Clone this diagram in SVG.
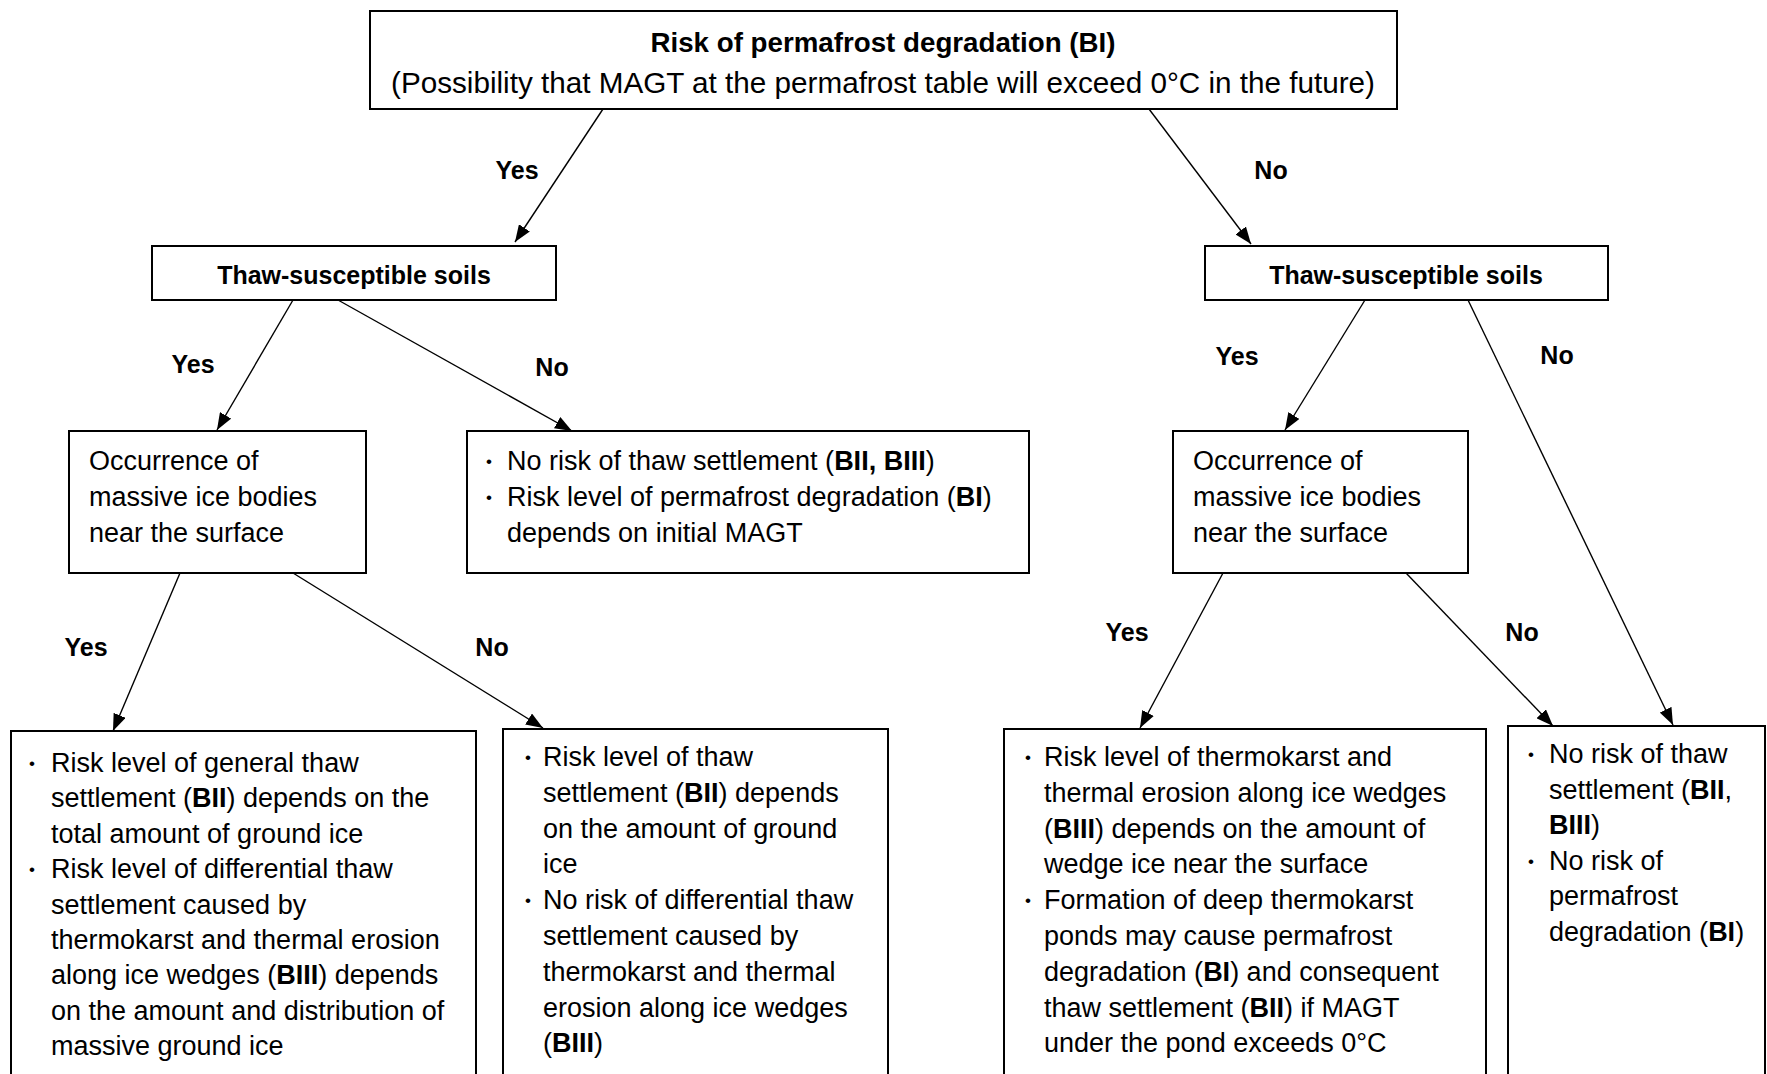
<svg xmlns="http://www.w3.org/2000/svg" width="1767" height="1074" viewBox="0 0 1767 1074">
<style>
.box{fill:#fff;stroke:#000;stroke-width:2}
.t{font-family:"Liberation Sans",Arial,sans-serif;font-size:27px;fill:#000}
.b{font-family:"Liberation Sans",Arial,sans-serif;font-size:25px;font-weight:bold;fill:#000}
.bu{font-family:"Liberation Sans",Arial,sans-serif;font-size:17px;fill:#000}
.c{stroke:#000;stroke-width:1.4;fill:none;marker-end:url(#ah)}
tspan.k{font-weight:bold}
</style>
<defs>
<marker id="ah" markerUnits="userSpaceOnUse" markerWidth="17" markerHeight="13" refX="17" refY="6.5" orient="auto">
<path d="M0,0 L17,6.5 L0,13 z" fill="#000"/>
</marker>
</defs>
<rect width="1767" height="1074" fill="#fff"/>
<g id="connectors">
<line class="c" x1="603" y1="109" x2="515" y2="242"/>
<line class="c" x1="1149" y1="109" x2="1251" y2="244"/>
<line class="c" x1="293" y1="300" x2="217" y2="430"/>
<line class="c" x1="338" y1="300" x2="572" y2="431"/>
<line class="c" x1="1365" y1="300" x2="1285" y2="430"/>
<line class="c" x1="1468" y1="300" x2="1673" y2="725"/>
<line class="c" x1="180" y1="573" x2="113" y2="731"/>
<line class="c" x1="293" y1="573" x2="543" y2="728"/>
<line class="c" x1="1223" y1="573" x2="1140" y2="728"/>
<line class="c" x1="1406" y1="573" x2="1553" y2="726"/>
<text class="b" x="517" y="179" text-anchor="middle">Yes</text>
<text class="b" x="1271" y="179" text-anchor="middle">No</text>
<text class="b" x="193" y="373" text-anchor="middle">Yes</text>
<text class="b" x="552" y="376" text-anchor="middle">No</text>
<text class="b" x="1237" y="365" text-anchor="middle">Yes</text>
<text class="b" x="1557" y="364" text-anchor="middle">No</text>
<text class="b" x="86" y="656" text-anchor="middle">Yes</text>
<text class="b" x="492" y="656" text-anchor="middle">No</text>
<text class="b" x="1127" y="641" text-anchor="middle">Yes</text>
<text class="b" x="1522" y="641" text-anchor="middle">No</text>
</g>
<g id="root">
<rect class="box" x="370" y="11" width="1027" height="98"/>
<text class="b" x="883" y="52" text-anchor="middle" style="font-size:28px" textLength="465" lengthAdjust="spacingAndGlyphs">Risk of permafrost degradation (BI)</text>
<text class="t" x="883" y="93" text-anchor="middle" style="font-size:29.5px" textLength="984" lengthAdjust="spacingAndGlyphs">(Possibility that MAGT at the permafrost table will exceed 0°C in the future)</text>
</g>
<g id="thaw-left">
<rect class="box" x="152" y="246" width="404" height="54"/>
<text class="b" x="354" y="284" text-anchor="middle">Thaw-susceptible soils</text>
</g>
<g id="thaw-right">
<rect class="box" x="1205" y="246" width="403" height="54"/>
<text class="b" x="1406" y="284" text-anchor="middle">Thaw-susceptible soils</text>
</g>
<g id="ice-left">
<rect class="box" x="69" y="431" width="297" height="142"/>
<text class="t" x="89" y="470">Occurrence of</text>
<text class="t" x="89" y="506">massive ice bodies</text>
<text class="t" x="89" y="542">near the surface</text>
</g>
<g id="norisk-left">
<rect class="box" x="467" y="431" width="562" height="142"/>
<text class="bu" x="486" y="467">•</text>
<text class="t" x="507" y="470">No risk of thaw settlement (<tspan class="k">BII, BIII</tspan>)</text>
<text class="bu" x="486" y="503">•</text>
<text class="t" x="507" y="506">Risk level of permafrost degradation (<tspan class="k">BI</tspan>)</text>
<text class="t" x="507" y="542">depends on initial MAGT</text>
</g>
<g id="ice-right">
<rect class="box" x="1173" y="431" width="295" height="142"/>
<text class="t" x="1193" y="470">Occurrence of</text>
<text class="t" x="1193" y="506">massive ice bodies</text>
<text class="t" x="1193" y="542">near the surface</text>
</g>
<g id="result-1">
<rect class="box" x="11" y="731" width="465" height="360"/>
<text class="bu" x="29" y="769">•</text>
<text class="t" x="51" y="772">Risk level of general thaw</text>
<text class="t" x="51" y="807.4">settlement (<tspan class="k">BII</tspan>) depends on the</text>
<text class="t" x="51" y="842.8">total amount of ground ice</text>
<text class="bu" x="29" y="875.2">•</text>
<text class="t" x="51" y="878.2">Risk level of differential thaw</text>
<text class="t" x="51" y="913.6">settlement caused by</text>
<text class="t" x="51" y="949">thermokarst and thermal erosion</text>
<text class="t" x="51" y="984.4">along ice wedges (<tspan class="k">BIII</tspan>) depends</text>
<text class="t" x="51" y="1019.8">on the amount and distribution of</text>
<text class="t" x="51" y="1055.2">massive ground ice</text>
</g>
<g id="result-2">
<rect class="box" x="503" y="729" width="385" height="360"/>
<text class="bu" x="525" y="763">•</text>
<text class="t" x="543" y="766">Risk level of thaw</text>
<text class="t" x="543" y="801.8">settlement (<tspan class="k">BII</tspan>) depends</text>
<text class="t" x="543" y="837.6">on the amount of ground</text>
<text class="t" x="543" y="873.4">ice</text>
<text class="bu" x="525" y="906.2">•</text>
<text class="t" x="543" y="909.2">No risk of differential thaw</text>
<text class="t" x="543" y="945">settlement caused by</text>
<text class="t" x="543" y="980.8">thermokarst and thermal</text>
<text class="t" x="543" y="1016.6">erosion along ice wedges</text>
<text class="t" x="543" y="1052.4">(<tspan class="k">BIII</tspan>)</text>
</g>
<g id="result-3">
<rect class="box" x="1004" y="729" width="482" height="360"/>
<text class="bu" x="1025" y="763">•</text>
<text class="t" x="1044" y="766">Risk level of thermokarst and</text>
<text class="t" x="1044" y="801.8">thermal erosion along ice wedges</text>
<text class="t" x="1044" y="837.6">(<tspan class="k">BIII</tspan>) depends on the amount of</text>
<text class="t" x="1044" y="873.4">wedge ice near the surface</text>
<text class="bu" x="1025" y="906.2">•</text>
<text class="t" x="1044" y="909.2">Formation of deep thermokarst</text>
<text class="t" x="1044" y="945">ponds may cause permafrost</text>
<text class="t" x="1044" y="980.8">degradation (<tspan class="k">BI</tspan>) and consequent</text>
<text class="t" x="1044" y="1016.6">thaw settlement (<tspan class="k">BII</tspan>) if MAGT</text>
<text class="t" x="1044" y="1052.4">under the pond exceeds 0°C</text>
</g>
<g id="result-4">
<rect class="box" x="1508" y="726" width="257" height="360"/>
<text class="bu" x="1528" y="760">•</text>
<text class="t" x="1549" y="763">No risk of thaw</text>
<text class="t" x="1549" y="798.6">settlement (<tspan class="k">BII</tspan>,</text>
<text class="t" x="1549" y="834.2"><tspan class="k">BIII</tspan>)</text>
<text class="bu" x="1528" y="866.8">•</text>
<text class="t" x="1549" y="869.8">No risk of</text>
<text class="t" x="1549" y="905.4">permafrost</text>
<text class="t" x="1549" y="941">degradation (<tspan class="k">BI</tspan>)</text>
</g>
</svg>
